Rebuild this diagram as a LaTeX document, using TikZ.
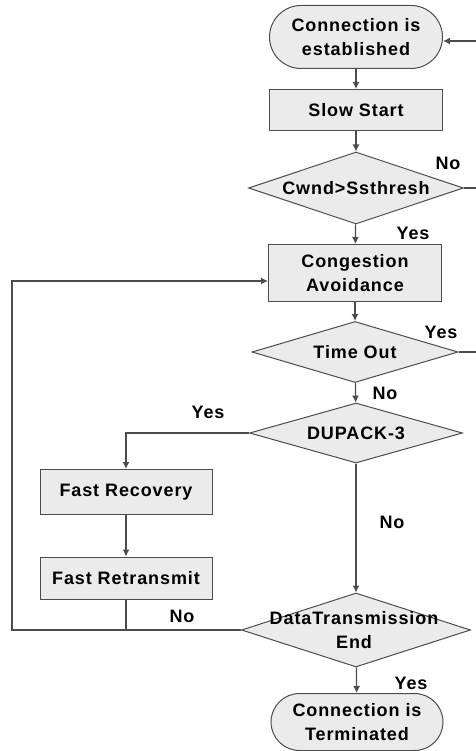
\documentclass[tikz,border=0pt]{standalone}
\usepackage{fontspec}
\setmainfont{Liberation Sans}[LetterSpace=5]
\usetikzlibrary{arrows.meta,shapes.geometric,shapes.misc}
\begin{document}
\begin{tikzpicture}[x=1pt,y=-1pt,
  font=\fontsize{18}{24}\selectfont\bfseries,
  box/.style={rectangle, draw=black!70, line width=1pt, fill=black!8, inner sep=0pt, align=center},
  term/.style={rounded rectangle, draw=black!70, line width=1pt, fill=black!8, inner sep=0pt, align=center},
  dia/.style={diamond, draw=black!70, line width=1pt, fill=black!8, inner sep=0pt},
  txt/.style={inner sep=0pt, align=center},
  conn/.style={draw=black!70, line width=1.2pt},
  arr/.style={conn, -{Latex[length=7pt,width=7pt]}}]
\useasboundingbox (0,0) rectangle (475,751);
% nodes
\node[term, minimum width=173pt, minimum height=63pt] (est) at (356,37) {Connection is\\established};
\node[box, minimum width=173pt, minimum height=41pt] (slow) at (356,110) {Slow Start};
\node[dia, minimum width=215pt, minimum height=72pt] (cwnd) at (356,188) {};
\node[txt] (cwndt) at (356,188) {Cwnd>Ssthresh};
\node[box, minimum width=173pt, minimum height=57pt] (ca) at (355,273) {Congestion\\Avoidance};
\node[dia, minimum width=206pt, minimum height=61pt] (to) at (355,352) {};
\node[txt] (tot) at (355,352) {Time Out};
\node[dia, minimum width=213pt, minimum height=60pt] (dup) at (356,433) {};
\node[txt] (dupt) at (356,433) {DUPACK-3};
\node[box, minimum width=172pt, minimum height=45pt] (fr) at (126,492) {Fast Recovery};
\node[box, minimum width=172pt, minimum height=42pt] (frt) at (126,578) {Fast Retransmit};
\node[dia, minimum width=229pt, minimum height=74pt] (dte) at (356,630) {};
\node[txt] (dtet) at (354,630) {DataTransmission\\End};
\node[term, minimum width=172pt, minimum height=57pt] (term) at (357,722) {Connection is\\Terminated};
% labels
\node[txt] (l1) at (448,163) {No};
\node[txt] (l2) at (413,233) {Yes};
\node[txt] (l3) at (441,332) {Yes};
\node[txt] (l4) at (385,393) {No};
\node[txt] (l5) at (208,412) {Yes};
\node[txt] (l6) at (392,522) {No};
\node[txt] (l7) at (182,616) {No};
\node[txt] (l8) at (411,683) {Yes};
% coordinates
\coordinate (lc1) at (12,630);
\coordinate (lc2) at (12,281);
\coordinate (rc1) at (482,352);
\coordinate (rc2) at (482,41);
% connectors
\draw[arr] (est) -- (slow);
\draw[arr] (slow) -- (cwnd);
\draw[arr] (cwnd) -- (ca);
\draw[arr] (ca) -- (to);
\draw[arr] (to) -- (dup);
\draw[arr] (dup) -- (dte);
\draw[arr] (dte) -- (term);
\draw[arr] (dup.west) -| (fr.north);
\draw[arr] (fr) -- (frt);
\draw[conn] (frt.south) -- (frt.south |- lc1);
\draw[arr] (dte.west) -- (lc1) -- (lc2) -- (lc2 -| ca.west);
\draw[conn] (cwnd.east) -- (cwnd.east -| rc1);
\draw[arr] (to.east) -- (rc1) -- (rc2) -- (rc2 -| est.east);
\end{tikzpicture}
\end{document}
